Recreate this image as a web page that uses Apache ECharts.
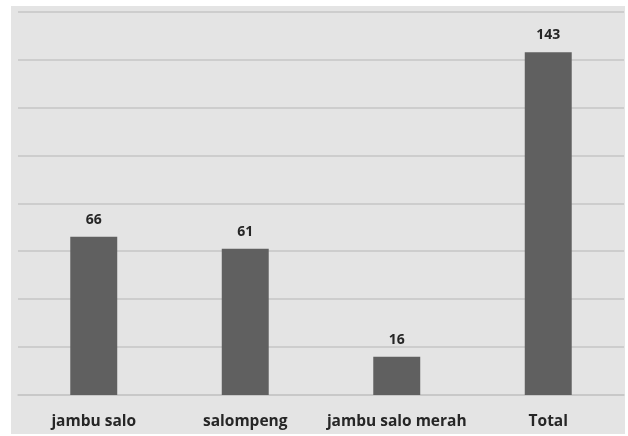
<!DOCTYPE html>
<html>
<head>
<meta charset="utf-8">
<style>
  html, body { margin: 0; padding: 0; background: #ffffff; }
  #chart { width: 628px; height: 436px; }
</style>
<script src="https://cdn.jsdelivr.net/npm/echarts@6/dist/echarts.min.js"></script>
</head>
<body>
<div id="chart"></div>
<script>
// Fruit variety counts
const categories = ['jambu salo', 'salompeng', 'jambu salo merah', 'Total'];
const counts = [66, 61, 16, 143];

const chart = echarts.init(document.getElementById('chart'), null, { renderer: 'canvas' });

chart.setOption({
  backgroundColor: '#ffffff',
  animation: false,
  graphic: [{
    type: 'rect',
    z: -10,
    silent: true,
    shape: { x: 11, y: 6, width: 614, height: 428 },
    style: { fill: '#e4e4e4' }
  }],
  grid: { left: 18, right: 4, top: 11.5, bottom: 41 },
  xAxis: {
    type: 'category',
    data: categories,
    axisLine: { show: true, lineStyle: { color: '#c6c6c6', width: 1.5 } },
    axisTick: { show: false },
    axisLabel: {
      interval: 0,
      color: '#262626',
      fontFamily: 'Open Sans',
      fontWeight: 'bold',
      fontSize: 15.5,
      margin: 19
    }
  },
  yAxis: {
    type: 'value',
    min: 0,
    max: 160,
    interval: 20,
    axisLabel: { show: false },
    axisLine: { show: false },
    axisTick: { show: false },
    splitLine: { lineStyle: { color: '#c6c6c6', width: 1.5 } }
  },
  series: [{
    type: 'bar',
    data: counts,
    barWidth: '31%',
    itemStyle: { color: '#606060' },
    label: {
      show: true,
      position: 'top',
      distance: 10,
      color: '#262626',
      fontFamily: 'Open Sans',
      fontWeight: 'bold',
      fontSize: 14
    }
  }]
});
</script>
</body>
</html>
